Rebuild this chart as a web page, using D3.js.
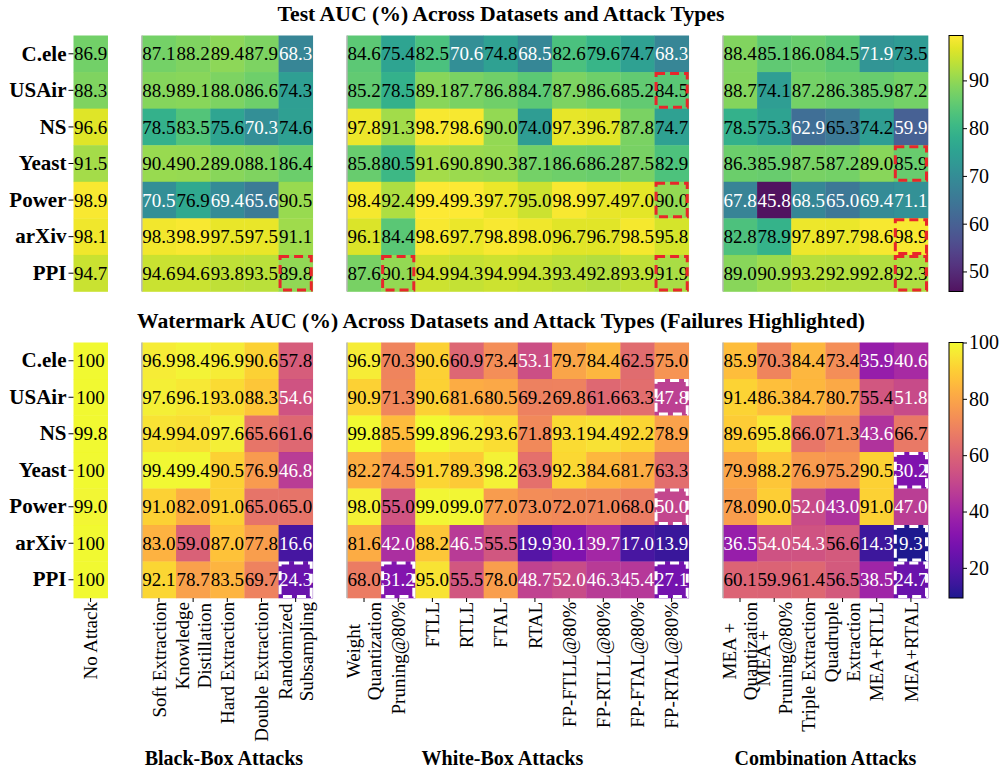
<!DOCTYPE html>
<html>
<head>
<meta charset="utf-8">
<title>AUC heatmaps</title>
<script src="https://d3js.org/d3.v7.min.js"></script>
<style>
  body { margin: 0; background: #fff; }
  text { font-family: "Liberation Serif", "Times New Roman", serif; }
</style>
</head>
<body>
<div id="chart"></div>
<script>
// ---- data ----
var datasets = ["C.ele", "USAir", "NS", "Yeast", "Power", "arXiv", "PPI"];

var groupNames = ["", "Black-Box Attacks", "White-Box Attacks", "Combination Attacks"];
var groupCols = [
  ["No Attack"],
  ["Soft Extraction", "Knowledge\nDistillation", "Hard Extraction", "Double Extraction", "Randomized\nSubsampling"],
  ["Weight\nQuantization", "Pruning@80%", "FTLL", "RTLL", "FTAL", "RTAL",
   "FP-FTLL@80%", "FP-RTLL@80%", "FP-FTAL@80%", "FP-RTAL@80%"],
  ["MEA +\nQuantization", "MEA +\nPruning@80%", "Triple Extraction", "Quadruple\nExtraction", "MEA+RTLL", "MEA+RTAL"]
];

// one row per dataset, columns in the order above
var testAUC = [
  [86.9, 87.1, 88.2, 89.4, 87.9, 68.3, 84.6, 75.4, 82.5, 70.6, 74.8, 68.5, 82.6, 79.6, 74.7, 68.3, 88.4, 85.1, 86.0, 84.5, 71.9, 73.5],
  [88.3, 88.9, 89.1, 88.0, 86.6, 74.3, 85.2, 78.5, 89.1, 87.7, 86.8, 84.7, 87.9, 86.6, 85.2, 84.5, 88.7, 74.1, 87.2, 86.3, 85.9, 87.2],
  [96.6, 78.5, 83.5, 75.6, 70.3, 74.6, 97.8, 91.3, 98.7, 98.6, 90.0, 74.0, 97.3, 96.7, 87.8, 74.7, 78.5, 75.3, 62.9, 65.3, 74.2, 59.9],
  [91.5, 90.4, 90.2, 89.0, 88.1, 86.4, 85.8, 80.5, 91.6, 90.8, 90.3, 87.1, 86.6, 86.2, 87.5, 82.9, 86.3, 85.9, 87.5, 87.2, 89.0, 85.9],
  [98.9, 70.5, 76.9, 69.4, 65.6, 90.5, 98.4, 92.4, 99.4, 99.3, 97.7, 95.0, 98.9, 97.4, 97.0, 90.0, 67.8, 45.8, 68.5, 65.0, 69.4, 71.1],
  [98.1, 98.3, 98.9, 97.5, 97.5, 91.1, 96.1, 84.4, 98.6, 97.7, 98.8, 98.0, 96.7, 96.7, 98.5, 95.8, 82.8, 78.9, 97.8, 97.7, 98.6, 98.9],
  [94.7, 94.6, 94.6, 93.8, 93.5, 89.8, 87.6, 90.1, 94.9, 94.3, 94.9, 94.3, 93.4, 92.8, 93.9, 91.9, 89.0, 90.9, 93.2, 92.9, 92.8, 92.3]
];

var watermarkAUC = [
  [100, 96.9, 98.4, 96.9, 90.6, 57.8, 96.9, 70.3, 90.6, 60.9, 73.4, 53.1, 79.7, 84.4, 62.5, 75.0, 85.9, 70.3, 84.4, 73.4, 35.9, 40.6],
  [100, 97.6, 96.1, 93.0, 88.3, 54.6, 90.9, 71.3, 90.6, 81.6, 80.5, 69.2, 69.8, 61.6, 63.3, 47.8, 91.4, 86.3, 84.7, 80.7, 55.4, 51.8],
  [99.8, 94.9, 94.0, 97.6, 65.6, 61.6, 99.8, 85.5, 99.8, 96.2, 93.6, 71.8, 93.1, 94.4, 92.2, 78.9, 89.6, 95.8, 66.0, 71.3, 43.6, 66.7],
  [100, 99.4, 99.4, 90.5, 76.9, 46.8, 82.2, 74.5, 91.7, 89.3, 98.2, 63.9, 92.3, 84.6, 81.7, 63.3, 79.9, 88.2, 76.9, 75.2, 90.5, 30.2],
  [99.0, 91.0, 82.0, 91.0, 65.0, 65.0, 98.0, 55.0, 99.0, 99.0, 77.0, 73.0, 72.0, 71.0, 68.0, 50.0, 78.0, 90.0, 52.0, 43.0, 91.0, 47.0],
  [100, 83.0, 59.0, 87.0, 77.8, 16.6, 81.6, 42.0, 88.2, 46.5, 55.5, 19.9, 30.1, 39.7, 17.0, 13.9, 36.5, 54.0, 54.3, 56.6, 14.3, 9.3],
  [100, 92.1, 78.7, 83.5, 69.7, 24.3, 68.0, 31.2, 95.0, 55.5, 78.0, 48.7, 52.0, 46.3, 45.4, 27.1, 60.1, 59.9, 61.4, 56.5, 38.5, 24.7]
];

// watermark failures (highlighted in both panels)
var failures = [
  ["PPI", "Randomized\nSubsampling"],
  ["PPI", "Pruning@80%"],
  ["USAir", "FP-RTAL@80%"],
  ["Power", "FP-RTAL@80%"],
  ["PPI", "FP-RTAL@80%"],
  ["Yeast", "MEA+RTAL"],
  ["arXiv", "MEA+RTAL"],
  ["PPI", "MEA+RTAL"]
];

var testTicks = [50, 60, 70, 80, 90];
var wmTicks = [20, 40, 60, 80, 100];

// ---- layout ----
var width = 999, height = 771;
var gridLeft = 73.5, gridRight = 928;
var cbLeft = 949, cbWidth = 14;

var svg = d3.select("#chart").append("svg")
  .attr("width", width)
  .attr("height", height);

// flatten columns; each group is followed by one empty slot
var columns = [];
groupCols.forEach(function(cols, gi) {
  cols.forEach(function(c) {
    columns.push({ name: c, group: gi, slot: columns.length + gi });
  });
});
var nSlots = columns.length + groupCols.length - 1;

var x = d3.scaleLinear().domain([0, nSlots]).range([gridLeft, gridRight]);

function fmt(v) { return v === 100 ? "100" : v.toFixed(1); }

function drawPanel(opt) {
  var y = d3.scaleBand().domain(datasets).range([opt.top, opt.bottom]);
  var flat = d3.merge(opt.values);
  var ext = d3.extent(flat);
  var color = d3.scaleSequential(opt.interp).domain(ext);
  var mid = (ext[0] + ext[1]) / 2;

  var cells = [];
  opt.values.forEach(function(row, ri) {
    row.forEach(function(v, ci) {
      cells.push({ row: datasets[ri], col: columns[ci], v: v });
    });
  });

  var g = svg.append("g");

  g.selectAll("rect.cell").data(cells).enter().append("rect")
    .attr("class", "cell")
    .attr("x", function(d) { return x(d.col.slot); })
    .attr("y", function(d) { return y(d.row); })
    .attr("width", function(d) { return x(d.col.slot + 1) - x(d.col.slot) + 0.3; })
    .attr("height", y.bandwidth() + 0.3)
    .attr("fill", function(d) { return color(d.v); })
    .attr("fill-opacity", 0.93);

  g.selectAll("text.val").data(cells).enter().append("text")
    .attr("class", "val")
    .attr("x", function(d) { return x(d.col.slot + 0.5); })
    .attr("y", function(d) { return y(d.row) + y.bandwidth() / 2; })
    .attr("dy", "0.35em")
    .attr("text-anchor", "middle")
    .attr("font-size", 19)
    .attr("fill", function(d) {
      var dark = opt.darkText && opt.darkText.some(function(k) { return k[0] === d.row && k[1] === d.col.name; });
      return (d.v < mid && !dark) ? "#fff" : "#000";
    })
    .text(function(d) { return fmt(d.v); });

  // thin separators at the start of each attack group
  g.selectAll("line.sep").data(columns.filter(function(c, i) { return i > 0 && columns[i - 1].group !== c.group; }))
    .enter().append("line")
    .attr("x1", function(d) { return x(d.slot); })
    .attr("x2", function(d) { return x(d.slot); })
    .attr("y1", opt.top).attr("y2", opt.bottom)
    .attr("stroke", "#b8b8b8").attr("stroke-width", 1.5);

  // dashed failure boxes
  g.selectAll("rect.fail").data(failures).enter().append("rect")
    .attr("class", "fail")
    .attr("x", function(d) { var c = columns.find(function(k) { return k.name === d[1]; }); return x(c.slot) + 1.5; })
    .attr("y", function(d) { return y(d[0]) + 1.5; })
    .attr("width", x(1) - x(0) - 3)
    .attr("height", y.bandwidth() - 3)
    .attr("fill", "none")
    .attr("stroke", opt.boxColor)
    .attr("stroke-width", 3)
    .attr("stroke-dasharray", "9,5");

  // y axis
  var yAxis = g.append("g").attr("transform", "translate(" + gridLeft + ",0)")
    .call(d3.axisLeft(y).tickSize(5).tickPadding(2));
  yAxis.select(".domain").remove();
  yAxis.selectAll("text")
    .attr("font-family", "Liberation Serif")
    .attr("font-size", 21)
    .attr("font-weight", "bold")
    .attr("fill", "#000");

  // title
  svg.append("text")
    .attr("x", 501).attr("y", opt.titleY)
    .attr("text-anchor", "middle")
    .attr("font-size", 21.7)
    .attr("font-weight", "bold")
    .text(opt.title);

  // colorbar
  var cb = d3.scaleLinear().domain(ext).range([opt.bottom, opt.top]);
  var gradId = "grad" + opt.id;
  var grad = svg.append("defs").append("linearGradient")
    .attr("id", gradId).attr("x1", 0).attr("y1", 1).attr("x2", 0).attr("y2", 0);
  d3.range(0, 1.0001, 0.05).forEach(function(t) {
    grad.append("stop").attr("offset", t).attr("stop-color", opt.interp(t)).attr("stop-opacity", 0.93);
  });
  svg.append("rect")
    .attr("x", cbLeft).attr("y", opt.top)
    .attr("width", cbWidth).attr("height", opt.bottom - opt.top)
    .attr("fill", "url(#" + gradId + ")")
    .attr("stroke", "#000").attr("stroke-width", 1);
  var cbAxis = svg.append("g").attr("transform", "translate(" + (cbLeft + cbWidth) + ",0)")
    .call(d3.axisRight(cb).tickValues(opt.ticks).tickSize(4).tickPadding(2));
  cbAxis.select(".domain").remove();
  cbAxis.selectAll("text")
    .attr("font-family", "Liberation Serif")
    .attr("font-size", 20)
    .attr("fill", "#000");

  return y;
}

drawPanel({
  id: 1, values: testAUC, top: 35.5, bottom: 291.5, titleY: 21,
  title: "Test AUC (%) Across Datasets and Attack Types",
  interp: d3.interpolateViridis, boxColor: "#e8262b", ticks: testTicks,
  darkText: [["NS", "Quadruple\nExtraction"]]
});

drawPanel({
  id: 2, values: watermarkAUC, top: 342.5, bottom: 598, titleY: 328,
  title: "Watermark AUC (%) Across Datasets and Attack Types (Failures Highlighted)",
  interp: d3.interpolatePlasma, boxColor: "#fff", ticks: wmTicks
});

// x tick marks and rotated labels under the lower panel
var tickTop = 598, labelTop = 602, lineH = 21.6;
svg.selectAll("line.xtick").data(columns).enter().append("line")
  .attr("x1", function(d) { return x(d.slot + 0.5); })
  .attr("x2", function(d) { return x(d.slot + 0.5); })
  .attr("y1", tickTop).attr("y2", tickTop + 4)
  .attr("stroke", "#000");

columns.forEach(function(c) {
  var lines = c.name.split("\n");
  var lg = svg.append("g")
    .attr("transform", "translate(" + x(c.slot + 0.5) + "," + labelTop + ") rotate(-90)");
  var ts = lines.map(function(s, i) {
    return lg.append("text")
      .attr("y", (i - (lines.length - 1) / 2) * lineH)
      .attr("dy", "0.35em")
      .attr("text-anchor", "middle")
      .attr("font-size", 19)
      .text(s);
  });
  var maxLen = d3.max(ts, function(t) { return t.node().getComputedTextLength(); });
  ts.forEach(function(t) { t.attr("x", -maxLen / 2); });
});

// group labels
var groupLabelAt = [null, 4.4, 12.55, 22];
groupNames.forEach(function(name, gi) {
  if (!name) return;
  svg.append("text")
    .attr("x", x(groupLabelAt[gi]))
    .attr("y", 765)
    .attr("text-anchor", "middle")
    .attr("font-size", 20)
    .attr("font-weight", "bold")
    .text(name);
});
</script>
</body>
</html>
